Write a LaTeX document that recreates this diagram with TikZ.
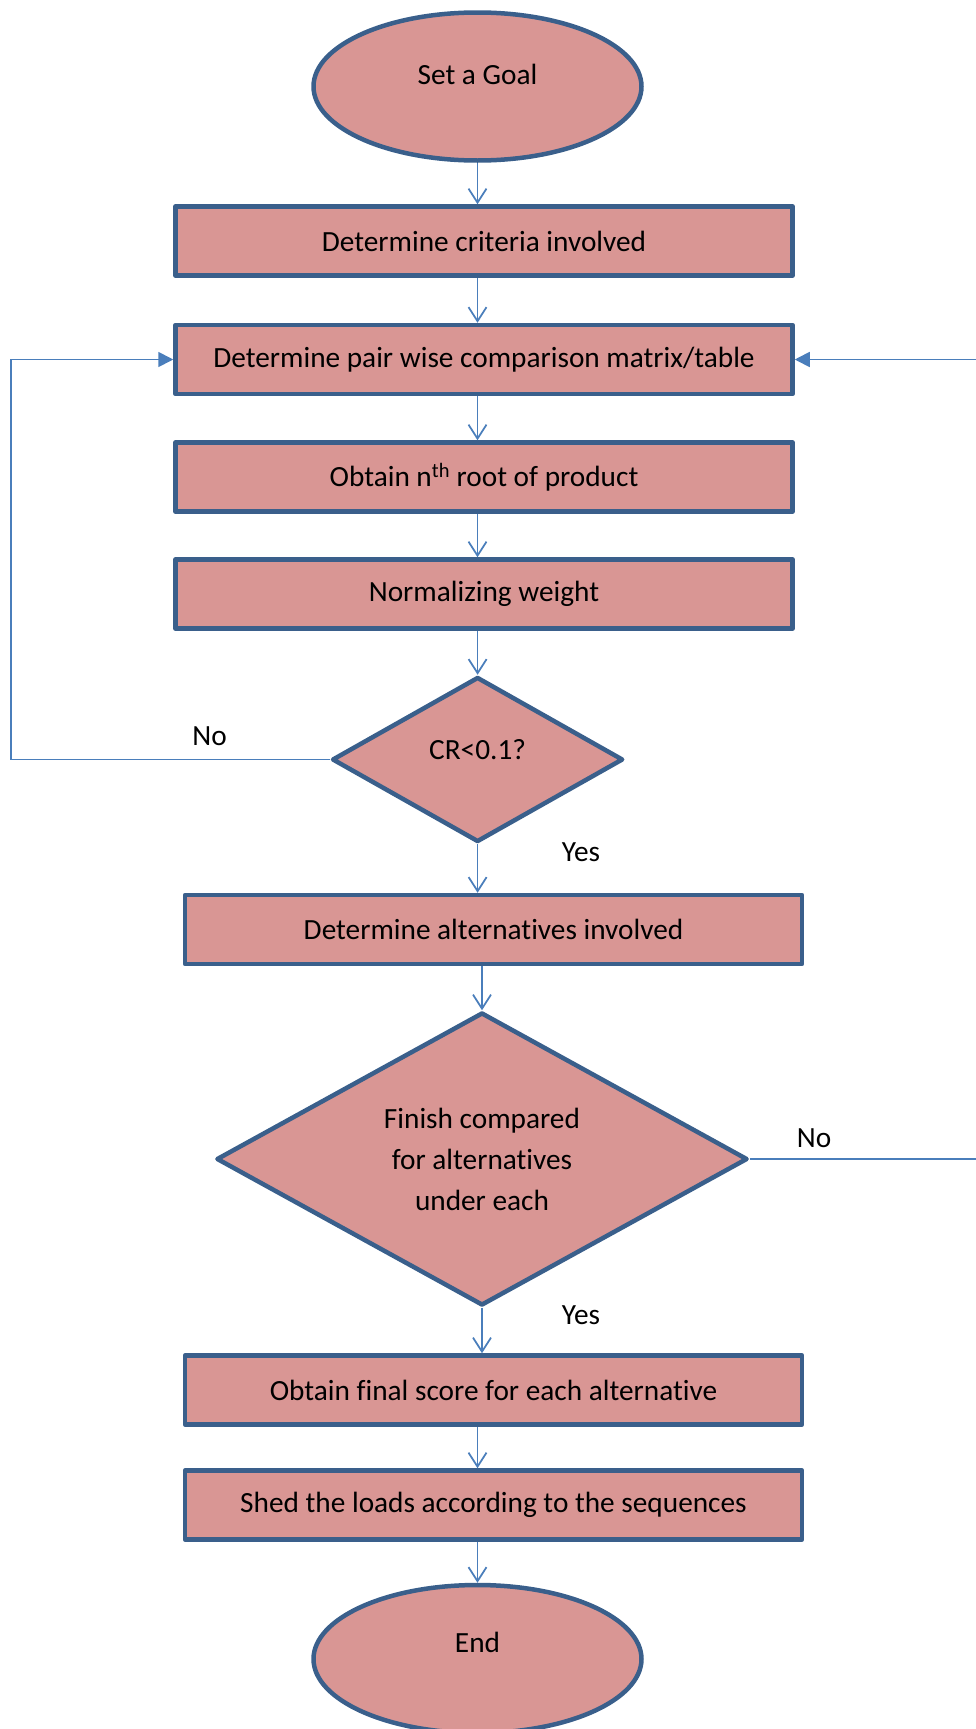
\documentclass[tikz,border=0pt]{standalone}
\usepackage{fontspec}
\setmainfont{Carlito}[Ligatures=NoCommon]
\usetikzlibrary{shapes.geometric,arrows.meta}
\definecolor{boxfill}{HTML}{D99694}
\definecolor{boxline}{HTML}{3A5F8B}
\definecolor{conn}{HTML}{4A7EBB}
\begin{document}
\begin{tikzpicture}[x=1pt,y=-1pt,
  every node/.style={font=\fontsize{29.3}{41}\selectfont, text=black},
  flowbox/.style={draw=boxline, fill=boxfill, line width=4.5pt, line join=round,
    rectangle, minimum width=617pt, minimum height=69pt, inner sep=0pt},
  termbox/.style={draw=boxline, fill=boxfill, line width=4.5pt, ellipse,
    minimum width=328pt, minimum height=148pt, inner sep=0pt,
    text height=19pt, text depth=23pt},
  decbox/.style={draw=boxline, fill=boxfill, line width=4.5pt, diamond,
    line join=round, inner sep=0pt, align=center},
  arr/.style={draw=conn, line width=1.75pt, -{Straight Barb[length=14pt,width=18pt,line width=1.75pt]}},
  fb/.style={draw=conn, line width=1.75pt, -{Triangle[length=15pt,width=15pt]}},
  lbl/.style={inner sep=0pt}
]
\useasboundingbox (0,0) rectangle (975,1729);

\node[termbox] (start) at (477.5,86.5) {Set a Goal};
\node[flowbox] (b1) at (484,241) {Determine criteria involved};
\node[flowbox] (b2) at (484,359.5) {Determine pair wise comparison matrix/table};
\node[flowbox] (b3) at (484,477) {Obtain n\textsuperscript{th} root of product};
\node[flowbox] (b4) at (484,594) {Normalizing weight};
\node[decbox, minimum width=291pt, minimum height=165pt, text height=19pt, text depth=19pt] (d1) at (477.6,759.5) {CR<0.1?};
\node[flowbox] (b5) at (493.5,929.5) {Determine alternatives involved};
\node[decbox, minimum width=531pt, minimum height=293pt, shape aspect=1.8] (d2) at (482,1159) {Finish compared\\for alternatives\\under each};
\node[flowbox] (b6) at (493.5,1390) {Obtain final score for each alternative};
\node[flowbox] (b7) at (493.5,1505) {Shed the loads according to the sequences};
\node[termbox, text depth=32pt] (end) at (477.5,1659) {End};

\node[lbl] (no1) at (209.6,735.7) {No};
\node[lbl] (yes1) at (581,852.6) {Yes};
\node[lbl] (no2) at (814,1138) {No};
\node[lbl] (yes2) at (581,1314.8) {Yes};

\coordinate (lx) at (11,0);
\coordinate (rx) at (976.5,0);

\draw[arr] (start.south) -- (start.south |- b1.north);
\draw[arr] (b1.south -| start) -- (b2.north -| start);
\draw[arr] (b2.south -| start) -- (b3.north -| start);
\draw[arr] (b3.south -| start) -- (b4.north -| start);
\draw[arr] (b4.south -| d1) -- (d1.north);
\draw[arr] (d1.south) -- (d1.south |- b5.north);
\draw[arr] (b5.south -| d2) -- (d2.north);
\draw[arr] (d2.south) -- (d2.south |- b6.north);
\draw[arr] (b6.south -| end) -- (b7.north -| end);
\draw[arr] (b7.south -| end) -- (end.north);

\draw[fb] (d1.west) -- (d1.west -| lx) |- (b2.west);
\draw[fb] (d2.east) -- (d2.east -| rx) |- (b2.east);
\end{tikzpicture}
\end{document}
